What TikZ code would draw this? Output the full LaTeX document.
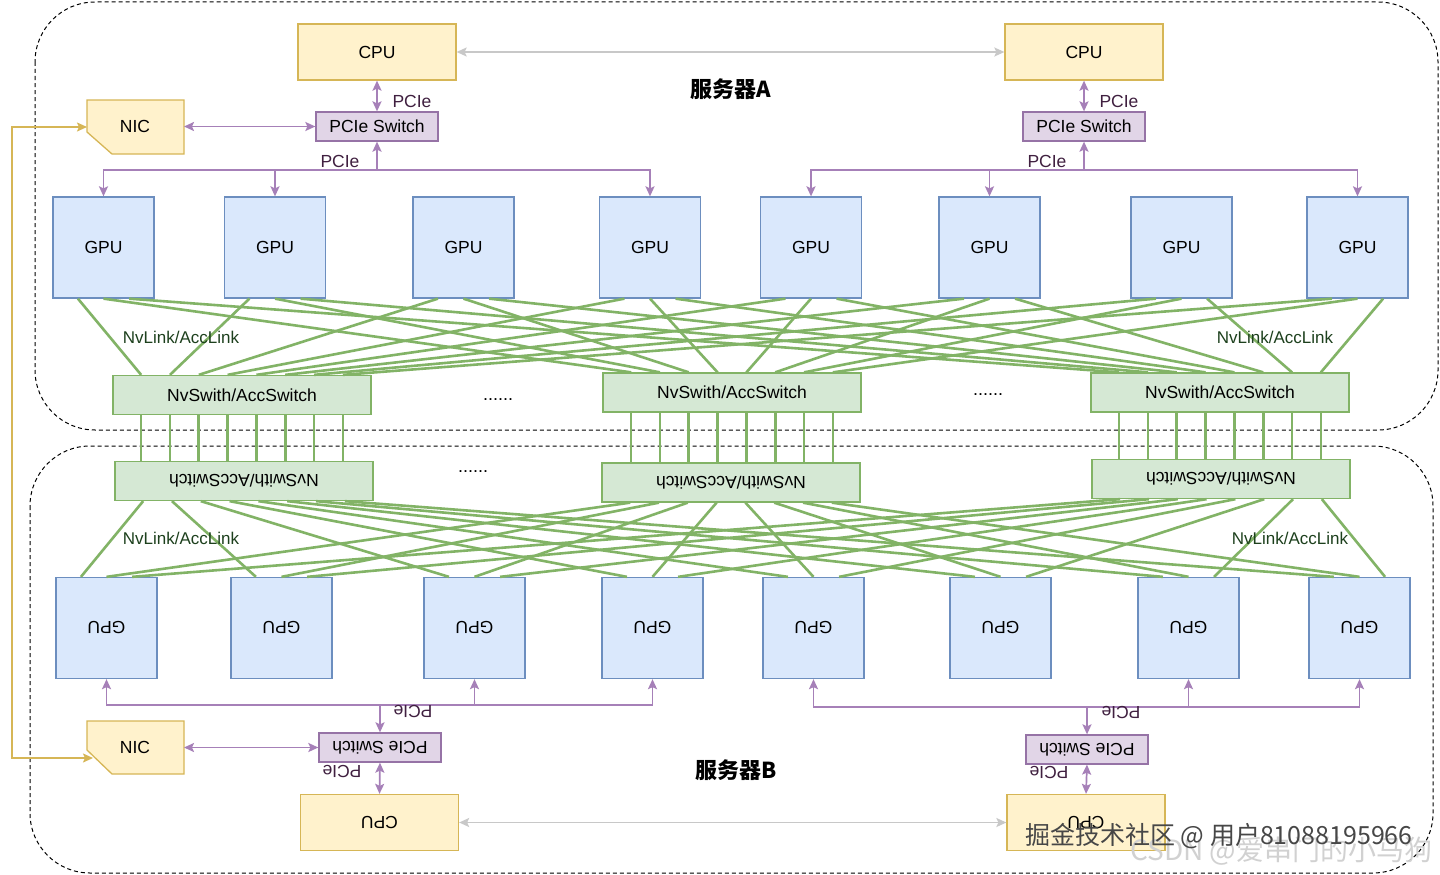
\documentclass[tikz,border=0pt]{standalone}
\usepackage{fontspec}
\setmainfont{Liberation Sans}
\newfontfamily\cjk{Noto Sans CJK SC}
\usetikzlibrary{arrows.meta,calc}
\definecolor{ylD}{HTML}{D6B656}
\definecolor{ylF}{HTML}{FFF2CC}
\definecolor{puD}{HTML}{9673A6}
\definecolor{puF}{HTML}{E1D5E7}
\definecolor{puA}{HTML}{A680B8}
\definecolor{blD}{HTML}{6C8EBF}
\definecolor{blF}{HTML}{DAE8FC}
\definecolor{grD}{HTML}{82B366}
\definecolor{grF}{HTML}{D5E8D4}
\definecolor{grT}{HTML}{1D401D}
\definecolor{puT}{HTML}{402040}
\definecolor{grayA}{HTML}{C8C8C8}
\begin{document}
\begin{tikzpicture}[x=1pt,y=-1pt,
  >={Stealth[length=10pt,width=9pt,inset=2pt]},
  every node/.style={font=\fontsize{17.5}{20}\selectfont, inner sep=0pt},
  cpubox/.style={draw=ylD, fill=ylF, line width=1.3pt, minimum width=158pt, minimum height=56pt},
  pswbox/.style={draw=puD, fill=puF, line width=1.3pt, minimum width=122pt, minimum height=29pt},
  gpubox/.style={draw=blD, fill=blF, line width=1.3pt, minimum width=101pt, minimum height=101pt},
  swbox/.style={draw=grD, fill=grF, line width=1.3pt, minimum width=258pt, minimum height=39pt},
  nicshape/.style={draw=ylD, fill=ylF, line width=1.3pt},
  nvl/.style={draw=grD, line width=2.6pt},
  pcie/.style={draw=puA, line width=1.7pt},
  cpulink/.style={draw=grayA, line width=1.5pt},
  nicl/.style={draw=ylD, line width=1.6pt},
  pcielab/.style={text=puT, font=\fontsize{17.5}{20}\selectfont},
  nvlab/.style={text=grT, font=\fontsize{17}{20}\selectfont},
  dots/.style={font=\fontsize{18}{20}\selectfont},
  title/.style={font=\cjk\bfseries\fontsize{22}{26}\selectfont},
  container/.style={draw=black, line width=1pt, dash pattern=on 4pt off 3pt, rounded corners=60pt}
]
\useasboundingbox (0,0) rectangle (1440,875);
\fill[white] (0,0) rectangle (1440,875);

% containers
\draw[container] (35,2) rectangle (1438,430);
\draw[container] (30,446) rectangle (1433,873);

% ---------- Server A ----------
\node[cpubox] (cA1) at (377,52) {CPU};
\node[cpubox] (cA2) at (1084,52) {CPU};
\node[pswbox] (pA1) at (377,126.5) {PCIe Switch};
\node[pswbox] (pA2) at (1084,126.5) {PCIe Switch};
\draw[nicshape] (87,100) -- (184,100) -- (184,154) -- (112,154) -- (87,132) -- cycle;
\node (nA) at (135,126) {NIC};
\coordinate (nAe) at (184,126.5);
\coordinate (nAw) at (87,127);

\foreach \x [count=\i] in {103.5,275,463.5,650,811,989.5,1181.5,1357.5}
  \node[gpubox] (gA\i) at (\x,247.5) {GPU};

\node[swbox] (sA1) at (242,395) {NvSwith/AccSwitch};
\node[swbox] (sA2) at (732,392.5) {NvSwith/AccSwitch};
\node[swbox] (sA3) at (1220,392.5) {NvSwith/AccSwitch};

\node[title] (tA) at (731,89) {服务器A};

% ---------- Server B ----------
\node[cpubox] (cB1) at (379.5,822.5) {\rotatebox{180}{CPU}};
\node[cpubox] (cB2) at (1086,822.5) {\rotatebox{180}{CPU}};
\node[pswbox] (pB1) at (380,747.5) {\rotatebox{180}{PCIe Switch}};
\node[pswbox] (pB2) at (1087,749.5) {\rotatebox{180}{PCIe Switch}};
\draw[nicshape] (87,721) -- (184,721) -- (184,774) -- (112,774) -- (87,750) -- cycle;
\node (nB) at (135,747) {NIC};
\coordinate (nBe) at (184,747.5);
\coordinate (nBw) at (93,758);

\foreach \x [count=\i] in {106.5,281.5,474.5,652.5,813.5,1000.5,1188.5,1359.5}
  \node[gpubox] (gB\i) at (\x,628) {\rotatebox{180}{GPU}};

\node[swbox] (sB1) at (244,481) {\rotatebox{180}{NvSwith/AccSwitch}};
\node[swbox] (sB2) at (731,482.5) {\rotatebox{180}{NvSwith/AccSwitch}};
\node[swbox] (sB3) at (1221,479) {\rotatebox{180}{NvSwith/AccSwitch}};

\node[title] (tB) at (736,770) {服务器B};

% ---------- NvLink meshes ----------
\foreach \i [evaluate=\i as \fr using \i/9] in {1,...,8}{
  \foreach \j [evaluate=\j as \fq using \j/4] in {1,2,3}{
    \draw[nvl] ($(gA\i.south west)!\fq!(gA\i.south east)$) -- ($(sA\j.north west)!\fr!(sA\j.north east)$);
    \draw[nvl] ($(gB\i.north west)!\fq!(gB\i.north east)$) -- ($(sB\j.south west)!\fr!(sB\j.south east)$);
  }
}
% switch-to-switch verticals
\foreach \j in {1,2,3}{
  \foreach \i [evaluate=\i as \fr using \i/9] in {1,...,8}{
    \path ($(sA\j.south west)!\fr!(sA\j.south east)$) coordinate (vt);
    \draw[nvl] (vt) -- (vt |- sB\j.north);
  }
}
\node[nvlab] (lA1) at (181,337) {NvLink/AccLink};
\node[nvlab] (lA2) at (1275,337) {NvLink/AccLink};
\node[nvlab] (lB1) at (181,538) {NvLink/AccLink};
\node[nvlab] (lB2) at (1290,538) {NvLink/AccLink};

\node[dots] (d1) at (498,400) {......};
\node[dots] (d2) at (988,395) {......};
\node[dots] (d3) at (473,472) {......};

% ---------- CPU links ----------
\draw[cpulink,<->] (cA1.east) -- (cA2.west);
\draw[cpulink,<->] (cB1.east) -- (cB2.west);

% ---------- PCIe, server A ----------
\draw[pcie,<->] (cA1.south) -- (pA1.north);
\draw[pcie,<->] (cA2.south) -- (pA2.north);
\node[pcielab] (lpA1) at (412,101) {PCIe};
\node[pcielab] (lpA2) at (1119,101) {PCIe};
\coordinate (bA1) at (377,170);
\coordinate (bA2) at (1084,170);
\draw[pcie,->] (bA1) -- (pA1.south);
\draw[pcie,->] (bA2) -- (pA2.south);
\foreach \g in {1,2,4} \draw[pcie,->] (bA1) -| (gA\g.north);
\foreach \g in {5,6,8} \draw[pcie,->] (bA2) -| (gA\g.north);
\node[pcielab] (lpA3) at (340,161) {PCIe};
\node[pcielab] (lpA4) at (1047,161) {PCIe};
\draw[pcie,<->] (nAe) -- (pA1.west);

% ---------- PCIe, server B ----------
\draw[pcie,<->] (cB1.north) -- (pB1.south);
\draw[pcie,<->] (cB2.north) -- (pB2.south);
\node[pcielab,rotate=180] (lpB1) at (342,772) {PCIe};
\node[pcielab,rotate=180] (lpB2) at (1049,773) {PCIe};
\coordinate (bB1) at (380,705);
\coordinate (bB2) at (1087,707);
\draw[pcie,->] (bB1) -- (pB1.north);
\draw[pcie,->] (bB2) -- (pB2.north);
\foreach \g in {1,3,4} \draw[pcie,->] (bB1) -| (gB\g.south);
\foreach \g in {5,7,8} \draw[pcie,->] (bB2) -| (gB\g.south);
\node[pcielab,rotate=180] (lpB3) at (413,712) {PCIe};
\node[pcielab,rotate=180] (lpB4) at (1121,713) {PCIe};
\draw[pcie,<->] (nBe) -- (pB1.west);

% ---------- NIC to NIC ----------
\draw[nicl,<->] (nBw) -- ++(-81,0) |- (nAw);

% ---------- watermarks ----------
\node[font=\cjk\fontsize{28}{32}\selectfont, text=black!18, anchor=west] (wm2) at (1130,851) {CSDN @爱串门的小马狗};
\node[font=\cjk\fontsize{25}{28}\selectfont, text=black!72, anchor=west] (wm1) at (1025,836) {掘金技术社区 @ 用户81088195966};
\end{tikzpicture}
\end{document}
